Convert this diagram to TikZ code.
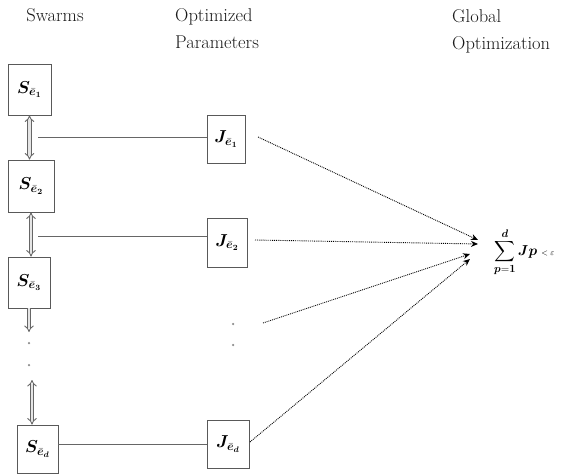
\documentclass[tikz,border=0pt]{standalone}
\usepackage{amsmath,bm}
\usetikzlibrary{arrows.meta}
\begin{document}
\begin{tikzpicture}[x=1pt,y=1pt,
  hdr/.style={text=black!90, font=\rmfamily\fontsize{18.5}{27}\selectfont, align=left, inner sep=0pt},
  sbox/.style={draw=black!65, line width=0.9pt, inner sep=0pt, minimum width=#1},
  sbox/.default=42pt,
  lbl/.style={font=\fontsize{17}{19}\selectfont},
  link/.style={draw=black!60, line width=0.9pt},
  dbl/.style={draw=black!60, double=black!10, double distance=2.4pt, line width=0.9pt},
  dott/.style={densely dotted, line width=0.9pt, -{Stealth[length=7pt,width=6pt]}},
  dotnode/.style={circle, fill=black!45, inner sep=0pt, minimum size=2.5pt}
]
\useasboundingbox (0,0) rectangle (563,475);
% headers
\node[hdr] (hsw) at (55,460) {Swarms};
\node[hdr, anchor=west] (hop) at (175,446) {Optimized\\Parameters};
\node[hdr, anchor=west] (hgl) at (452,444) {Global\\Optimization};
% swarm boxes
\node[sbox=43pt, minimum height=51pt, lbl] (S1) at (29.5,385.5) {$\bm{S}_{\bar{\bm{e}}_{\bm{1}}}$};
\node[sbox=46pt, minimum height=52pt, lbl] (S2) at (31,289) {$\bm{S}_{\bar{\bm{e}}_{\bm{2}}}$};
\node[sbox=42pt, minimum height=51pt, lbl] (S3) at (29,192.5) {$\bm{S}_{\bar{\bm{e}}_{\bm{3}}}$};
\node[sbox=41pt, minimum height=48pt, lbl] (Sd) at (37.5,26) {$\bm{S}_{\bar{\bm{e}}_{\bm{d}}}$};
% parameter boxes
\node[sbox=38pt, minimum height=48pt, lbl] (J1) at (226,336) {$\bm{J}_{\bar{\bm{e}}_{\bm{1}}}$};
\node[sbox=40pt, minimum height=49pt, lbl] (J2) at (227,232.5) {$\bm{J}_{\bar{\bm{e}}_{\bm{2}}}$};
\node[sbox=42pt, minimum height=48pt, lbl] (Jd) at (228,31) {$\bm{J}_{\bar{\bm{e}}_{\bm{d}}}$};
% vertical dots
\node[dotnode] (v1) at (29,132) {};
\node[dotnode] (v2) at (29,110) {};
\node[dotnode] (m1) at (233,151) {};
\node[dotnode] (m2) at (233,130) {};
% double arrows between swarms
\draw[dbl, {Implies}-{Implies}] (S1.south) -- (S1.south |- S2.north);
\draw[dbl, {Implies}-{Implies}] (S2.south) -- (S2.south |- S3.north);
\coordinate (a3) at (29,143);
\draw[dbl, -{Implies}] (S3.south) -- (a3);
\coordinate (a4) at (32,95);
\draw[dbl, {Implies}-{Implies}] (a4) -- (a4 |- Sd.north);
% links
\coordinate (h1) at (38,338);
\coordinate (h2) at (38,239);
\draw[link] (h1) -- (h1 -| J1.west);
\draw[link] (h2) -- (h2 -| J2.west);
\draw[link] (Sd.east |- Jd.west) -- (Jd.west);
% global optimisation
\node[font=\fontsize{15}{17}\selectfont, inner sep=0pt, anchor=west] (G) at (494,223)
  {$\displaystyle\sum_{\bm{p}=\bm{1}}^{\bm{d}}\bm{Jp}$\;{\fontsize{8}{9}\selectfont$<\varepsilon$}};
\coordinate (s1) at (258,338);
\coordinate (s2) at (255,235);
\coordinate (s3) at (263,152);
\coordinate (s4) at (250,33);
\coordinate (e1) at (478,235);
\coordinate (e2) at (478,231);
\coordinate (e3) at (470,221);
\coordinate (e4) at (470,216);
\draw[dott] (s1) -- (e1);
\draw[dott] (s2) -- (e2);
\draw[dott] (s3) -- (e3);
\draw[dott] (s4) -- (e4);
\end{tikzpicture}
\end{document}
